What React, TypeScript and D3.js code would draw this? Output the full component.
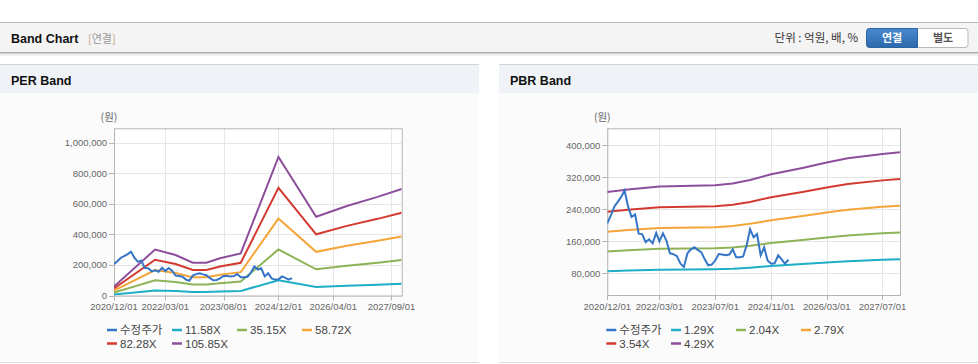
import React from "react";
import * as d3 from "d3";

// ---------- DATA ----------
const priceStart = "2020-12-01";
const priceValues = [
  205000, 225000, 247000, 258000, 271000, 287000, 246000, 221000, 227000, 179000,
  178000, 158000, 165000, 155000, 181000, 160000, 180000, 162000, 130000, 128000,
  123000, 104000, 96000, 130000, 140000, 145000, 138000, 133000, 115000, 100000,
  102000, 112000, 128000, 127000, 125000, 127000, 140000, 120000, 120000, 122000,
  150000, 190000, 170000, 178000, 125000, 145000, 112000, 104000, 105000, 125000,
  115000, 104000, 114000,
];

const epsDates = [
  "2020-12-01", "2021-12-01", "2022-06-01", "2022-11-01", "2023-03-01", "2023-07-01",
  "2024-01-01", "2024-12-01", "2025-11-01", "2026-08-01", "2027-05-01", "2027-12-01",
];
const epsValues = [555, 2840, 2500, 2030, 2030, 2300, 2600, 8560, 4865, 5530, 6090, 6580];

const bpsDates = [
  "2020-12-01", "2021-06-01", "2022-03-01", "2023-07-01", "2023-12-01", "2024-05-01",
  "2024-11-01", "2025-08-01", "2026-03-01", "2026-09-01", "2027-07-01", "2027-12-01",
];
const bpsValues = [66000, 67500, 69200, 70000, 71000, 73000, 76300, 80000, 83200, 85600, 88200, 89200];

const perMultiples = [11.58, 35.15, 58.72, 82.28, 105.85];
const pbrMultiples = [1.29, 2.04, 2.79, 3.54, 4.29];

const perYTicks = [0, 200000, 400000, 600000, 800000, 1000000];
const pbrYTicks = [80000, 160000, 240000, 320000, 400000];
const perXTicks = ["2020-12-01", "2022-03-01", "2023-08-01", "2024-12-01", "2026-04-01", "2027-09-01"];
const pbrXTicks = ["2020-12-01", "2022-03-01", "2023-07-01", "2024-11-01", "2026-03-01", "2027-07-01"];

const priceLabel = "수정주가";
const seriesColors = ["#3575c6", "#1eaec6", "#8db356", "#f5a53a", "#d33a2f", "#8d4f9c"];

// ---------- HELPERS ----------
const parse = d3.timeParse("%Y-%m-%d");
const fmtDate = d3.timeFormat("%Y/%m/%d");
const fmtNum = d3.format(",");
const FONT = "'Liberation Sans', Arial, 'Noto Sans CJK KR', sans-serif";
const KFONT = "'Noto Sans CJK KR', 'Liberation Sans', sans-serif";

type Pt = { d: Date; v: number };

function priceSeries(): Pt[] {
  const s = parse(priceStart)!;
  return priceValues.map((v, i) => ({ d: d3.timeMonth.offset(s, i), v }));
}

interface PanelProps {
  left: number;
  width: number;
  title: string;
  plot: { x0: number; x1: number; y0: number; y1: number };
  yDomain: [number, number];
  yTicks: number[];
  xTicks: string[];
  baseDates: string[];
  baseValues: number[];
  multiples: number[];
  legendTextX: number[];
}

function Panel(p: PanelProps) {
  const x = d3
    .scaleTime()
    .domain([parse("2020-12-01")!, parse("2027-12-01")!])
    .range([p.plot.x0, p.plot.x1]);
  const y = d3.scaleLinear().domain(p.yDomain).range([p.plot.y1, p.plot.y0]);
  const line = d3
    .line<Pt>()
    .x((d) => x(d.d))
    .y((d) => y(d.v));

  const base = p.baseDates.map((d, i) => ({ d: parse(d)!, v: p.baseValues[i] }));
  const bands = p.multiples.map((m) => base.map((b) => ({ d: b.d, v: b.v * m })));
  const price = priceSeries();

  const names = [priceLabel, ...p.multiples.map((m) => m.toFixed(2) + "X")];
  const legendRows = [330, 343.5];

  return (
    <g>
      {/* panel title bar */}
      <rect x={p.left} y={64} width={p.width} height={29} fill="#eff2f7" />
      <line x1={p.left} x2={p.left + p.width} y1={64.5} y2={64.5} stroke="#d4d4d4" />
      <text x={p.left + 11} y={85} fontFamily={FONT} fontWeight="bold" fontSize={12.5} fill="#111">
        {p.title}
      </text>
      <rect x={p.left} y={93} width={p.width} height={269} fill="#fbfbfb" />
      <line x1={p.left} x2={p.left + p.width} y1={362.5} y2={362.5} stroke="#dcdcdc" />

      {/* plot */}
      <rect
        x={p.plot.x0}
        y={p.plot.y0}
        width={p.plot.x1 - p.plot.x0}
        height={p.plot.y1 - p.plot.y0}
        fill="#ffffff"
      />
      {p.yTicks.map((t) => (
        <line
          key={"gy" + t}
          x1={p.plot.x0}
          x2={p.plot.x1}
          y1={Math.round(y(t)) + 0.5}
          y2={Math.round(y(t)) + 0.5}
          stroke="#e6e6e6"
        />
      ))}
      {p.xTicks.map((t) => (
        <line
          key={"gx" + t}
          x1={Math.round(x(parse(t)!)) + 0.5}
          x2={Math.round(x(parse(t)!)) + 0.5}
          y1={p.plot.y0}
          y2={p.plot.y1}
          stroke="#e6e6e6"
        />
      ))}
      <rect
        x={p.plot.x0 + 0.5}
        y={p.plot.y0 + 0.5}
        width={p.plot.x1 - p.plot.x0}
        height={p.plot.y1 - p.plot.y0}
        fill="none"
        stroke="#b4b4b4"
      />

      {/* y axis */}
      {p.yTicks.map((t) => (
        <g key={"ty" + t}>
          <line
            x1={p.plot.x0 - 5}
            x2={p.plot.x0}
            y1={Math.round(y(t)) + 0.5}
            y2={Math.round(y(t)) + 0.5}
            stroke="#b4b4b4"
          />
          <text
            x={p.plot.x0 - 7}
            y={y(t) + 3.5}
            textAnchor="end"
            fontFamily={FONT}
            fontSize={9.5}
            fill="#666"
          >
            {fmtNum(t)}
          </text>
        </g>
      ))}
      <text x={p.plot.x0 - 5} y={121} textAnchor="middle" fontFamily={KFONT} fontSize={10.5} fill="#666">
        (원)
      </text>

      {/* x axis */}
      {p.xTicks.map((t) => (
        <g key={"tx" + t}>
          <line
            x1={Math.round(x(parse(t)!)) + 0.5}
            x2={Math.round(x(parse(t)!)) + 0.5}
            y1={p.plot.y1}
            y2={p.plot.y1 + 5}
            stroke="#b4b4b4"
          />
          <text
            x={x(parse(t)!)}
            y={310}
            textAnchor="middle"
            fontFamily={FONT}
            fontSize={9.5}
            fill="#666"
          >
            {fmtDate(parse(t)!)}
          </text>
        </g>
      ))}

      {/* series */}
      <defs>
        <clipPath id={"clip" + p.title.replace(/\s/g, "")}>
          <rect
            x={p.plot.x0}
            y={p.plot.y0}
            width={p.plot.x1 - p.plot.x0}
            height={p.plot.y1 - p.plot.y0}
          />
        </clipPath>
      </defs>
      <g clipPath={`url(#clip${p.title.replace(/\s/g, "")})`}>
        {bands.map((b, i) => (
          <path key={"b" + i} d={line(b) || ""} fill="none" stroke={seriesColors[i + 1]} strokeWidth={2} />
        ))}
        <path d={line(price) || ""} fill="none" stroke={seriesColors[0]} strokeWidth={2} />
      </g>

      {/* legend */}
      {names.map((n, i) => {
        const row = i < 4 ? 0 : 1;
        const tx = p.legendTextX[i % 4];
        const ly = legendRows[row];
        return (
          <g key={"lg" + i}>
            <line x1={tx - 13} x2={tx - 3} y1={ly} y2={ly} stroke={seriesColors[i]} strokeWidth={2.5} />
            <text x={tx} y={ly + 4} fontFamily={i === 0 ? KFONT : FONT} fontSize={11.5} fill="#444">
              {n}
            </text>
          </g>
        );
      })}
    </g>
  );
}

export default function App() {
  return (
    <svg
      width={978}
      height={364}
      style={{ position: "absolute", left: 0, top: 0, background: "#fff" }}
    >
      {/* header */}
      <rect x={0} y={22} width={978} height={31} fill="#f4f4f4" />
      <line x1={0} x2={978} y1={22.5} y2={22.5} stroke="#b4b4b4" />
      <line x1={0} x2={978} y1={52.5} y2={52.5} stroke="#a8a8a8" />
      <line x1={0} x2={978} y1={53.5} y2={53.5} stroke="#d4d4d4" />
      <line x1={0} x2={978} y1={54.5} y2={54.5} stroke="#e8e8e8" />
      <line x1={0} x2={978} y1={55.5} y2={55.5} stroke="#f4f4f4" />
      <text x={11} y={43} fontFamily={FONT} fontWeight="bold" fontSize={12.5} fill="#111">
        Band Chart
      </text>
      <text x={88} y={43} fontFamily={KFONT} fontSize={11} fill="#999">
        <tspan fill="#c9a27a">[</tspan>연결<tspan fill="#c9a27a">]</tspan>
      </text>
      <text x={858} y={42} textAnchor="end" fontFamily={KFONT} fontSize={11.5} fill="#333">
        단위 : 억원, 배, %
      </text>
      <defs>
        <linearGradient id="btnBlue" x1="0" x2="0" y1="0" y2="1">
          <stop offset="0" stopColor="#4a8ad0" />
          <stop offset="1" stopColor="#2c68ab" />
        </linearGradient>
      </defs>
      <rect x={866.5} y={28.5} width={101.5} height={19} rx={3} fill="#fff" stroke="#b8b8b8" />
      <path
        d="M 869.5 28.5 H 917.5 V 47.5 H 869.5 A 3 3 0 0 1 866.5 44.5 V 31.5 A 3 3 0 0 1 869.5 28.5 Z"
        fill="url(#btnBlue)"
        stroke="#2c64a0"
      />
      <text x={892} y={42} textAnchor="middle" fontFamily={KFONT} fontWeight="bold" fontSize={11} fill="#fff">
        연결
      </text>
      <text x={943} y={42} textAnchor="middle" fontFamily={KFONT} fontWeight="bold" fontSize={11} fill="#555">
        별도
      </text>

      <Panel
        left={0}
        width={479}
        title="PER Band"
        plot={{ x0: 114, x1: 401.7, y0: 128.3, y1: 295.5 }}
        yDomain={[0, 1093000]}
        yTicks={perYTicks}
        xTicks={perXTicks}
        baseDates={epsDates}
        baseValues={epsValues}
        multiples={perMultiples}
        legendTextX={[120, 185, 250, 315]}
      />
      <Panel
        left={499}
        width={479}
        title="PBR Band"
        plot={{ x0: 607.3, x1: 900, y0: 128.3, y1: 295 }}
        yDomain={[25900, 442300]}
        yTicks={pbrYTicks}
        xTicks={pbrXTicks}
        baseDates={bpsDates}
        baseValues={bpsValues}
        multiples={pbrMultiples}
        legendTextX={[619.3, 684, 749, 814]}
      />
    </svg>
  );
}
